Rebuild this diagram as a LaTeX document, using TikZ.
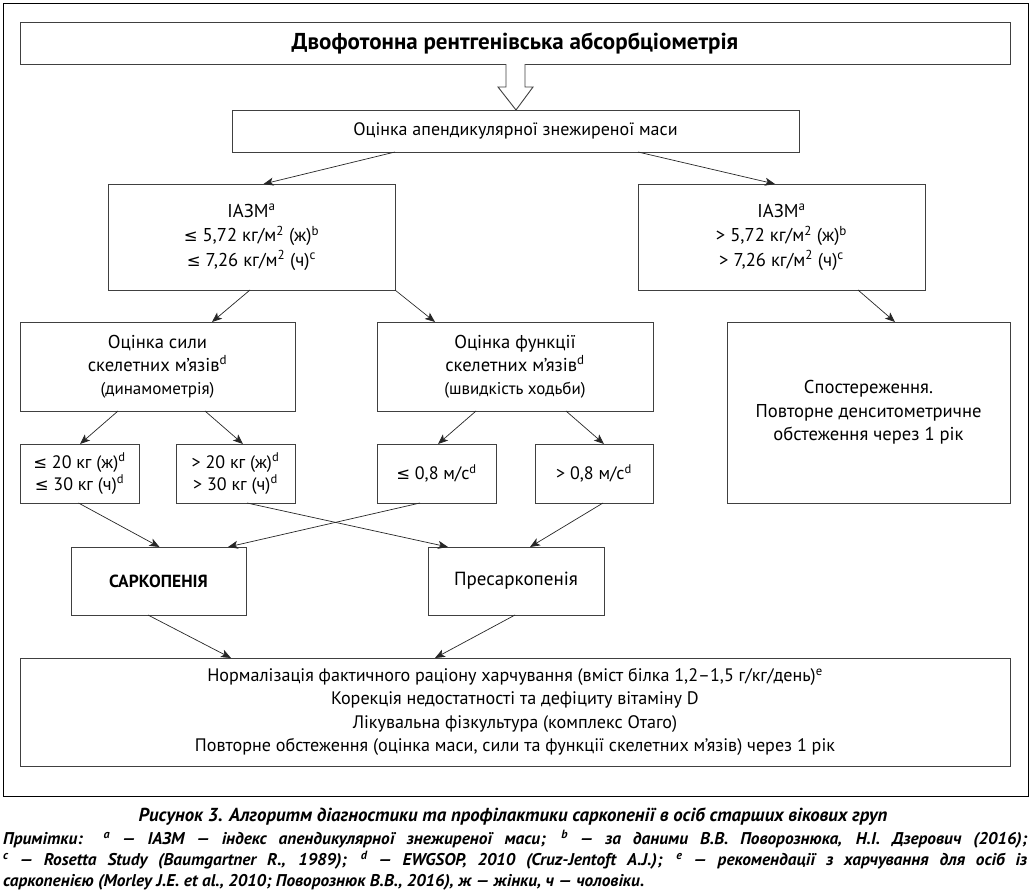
\documentclass[tikz,border=0pt]{standalone}
\usepackage{fontspec}
\setmainfont{PT Sans}
\newfontfamily\symf{DejaVu Sans}
\newfontfamily\notef[FakeStretch=1.02]{PT Sans}
\usetikzlibrary{arrows.meta,calc}
\newcommand{\lsym}{{\symf\fontsize{16.5}{16}\selectfont ≤}}
\tikzset{
  box/.style={draw=black!75, line width=0.9pt, inner sep=0pt, outer sep=0pt, align=center,
    font=\fontsize{18.6}{23}\selectfont, text=black},
  arr/.style={draw=black!85, line width=0.7pt, -{Stealth[length=10pt,width=8pt,inset=2.5pt]}}
}
\begin{document}
\begin{tikzpicture}[x=1pt,y=-1pt]
\useasboundingbox (0,0) rectangle (1033,894);
\draw[black, line width=1pt] (3,3) rectangle (1028,796);

\node[box, minimum width=990, minimum height=42, font=\bfseries\fontsize{23}{26}\selectfont] (top) at (515,43) {Двофотонна рентгенівська абсорбціометрія};
\node[box, minimum width=567, minimum height=42, font=\fontsize{18}{22}\selectfont] (mass) at (515.5,131) {Оцінка апендикулярної знежиреної маси};

\draw[draw=black!75, line width=0.9pt, fill=white]
  ($(top.south)+(-9,0)$) -- ++(0,23) -- ++(-8,0) -- ($(mass.north)+(0.5,0)$) -- ($(top.south)+(18,23)$) -- ++(-8,0) -- ($(top.south)+(10,0)$);

\node[box, minimum width=287, minimum height=106, font=\fontsize{18.6}{24.5}\selectfont] (iazl) at (251.5,237) {ІАЗМ\textsuperscript{a}\\ \lsym{} 5,72 кг/м\textsuperscript{2} (ж)\textsuperscript{b}\\ \lsym{} 7,26 кг/м\textsuperscript{2} (ч)\textsuperscript{c}};
\node[box, minimum width=287, minimum height=106, font=\fontsize{18.6}{24.5}\selectfont] (iazr) at (781.5,237) {ІАЗМ\textsuperscript{a}\\ > 5,72 кг/м\textsuperscript{2} (ж)\textsuperscript{b}\\ > 7,26 кг/м\textsuperscript{2} (ч)\textsuperscript{c}};

\node[box, minimum width=275, minimum height=89] (sila) at (157.5,366.5) {Оцінка сили\\скелетних м’язів\textsuperscript{d}\\ {\fontsize{17}{22}\selectfont(динамометрія)}};
\node[box, minimum width=276, minimum height=89] (funk) at (515,366.5) {Оцінка функції\\скелетних м’язів\textsuperscript{d}\\ {\fontsize{17}{22}\selectfont(швидкість ходьби)}};
\node[box, minimum width=283, minimum height=181, font=\fontsize{18.6}{23.5}\selectfont] (spost) at (868.5,412.5) {Спостереження.\\Повторне денситометричне\\обстеження через 1 рік};

\node[box, minimum width=119, minimum height=59, font=\fontsize{18}{22}\selectfont] (s1) at (79.5,473.5) {\lsym{} 20 кг (ж)\textsuperscript{d}\\ \lsym{} 30 кг (ч)\textsuperscript{d}};
\node[box, minimum width=119, minimum height=59, font=\fontsize{18}{22}\selectfont] (s2) at (235.5,473.5) {> 20 кг (ж)\textsuperscript{d}\\ > 30 кг (ч)\textsuperscript{d}};
\node[box, minimum width=119, minimum height=59, font=\fontsize{18}{22}\selectfont] (s3) at (436.5,473.5) {\lsym{} 0,8 м/с\textsuperscript{d}};
\node[box, minimum width=118, minimum height=59, font=\fontsize{18}{22}\selectfont] (s4) at (594,473.5) {> 0,8 м/с\textsuperscript{d}};

\node[box, minimum width=175, minimum height=68, font=\bfseries\fontsize{17.5}{24}\selectfont] (sark) at (158.5,581) {САРКОПЕНІЯ};
\node[box, minimum width=176, minimum height=68, font=\fontsize{19}{24}\selectfont] (presark) at (516,581) {Пресаркопенія};

\node[box, minimum width=990, minimum height=108, font=\fontsize{18.1}{23.3}\selectfont] (final) at (515,712) {Нормалізація фактичного раціону харчування (вміст білка 1,2–1,5 г/кг/день)\textsuperscript{e}\\Корекція недостатності та дефіциту вітаміну D\\Лікувальна фізкультура (комплекс Отаго)\\Повторне обстеження (оцінка маси, сили та функції скелетних м’язів) через 1 рік};

\draw[arr] ([xshift=-120.5]mass.south) -- ([xshift=12]iazl.north);
\draw[arr] ([xshift=122.5]mass.south) -- ([xshift=-6.5]iazr.north);
\draw[arr] ([xshift=-1.5]iazl.south) -- ([xshift=54.5]sila.north);
\draw[arr] (iazl.south east) -- ([xshift=-80]funk.north);
\draw[arr] ([xshift=76.5]iazr.south) -- ([xshift=26.5]spost.north);
\draw[arr] ([xshift=-39.5]sila.south) -- ([xshift=0.5]s1.north);
\draw[arr] ([xshift=47.5]sila.south) -- ([xshift=7.5]s2.north);
\draw[arr] ([xshift=-39]funk.south) -- ([xshift=1.5]s3.north);
\draw[arr] ([xshift=51]funk.south) -- ([xshift=10]s4.north);
\draw[arr] ([xshift=-1]s1.south) -- ([xshift=1]sark.north);
\draw[arr] ([xshift=-16.5]s3.south) -- ([xshift=69.5]sark.north);
\draw[arr] ([xshift=11.5]s2.south) -- ([xshift=-68]presark.north);
\draw[arr] ([xshift=9]s4.south) -- ([xshift=14]presark.north);
\draw[arr] ([xshift=-10.5]sark.south) -- ([xshift=-284]final.north);
\draw[arr] ([xshift=-1]presark.south) -- ([xshift=-80]final.north);

\node[inner sep=0pt, font=\bfseries\itshape\fontsize{18.8}{22}\selectfont] (cap) at (513,817) {Рисунок 3. Алгоритм діагностики та профілактики саркопенії в осіб старших вікових груп};
\node[anchor=north west, inner sep=0pt, text width=1024pt, align=justify, font=\notef\bfseries\itshape\fontsize{17}{21}\selectfont] (notes) at (3,830) {Примітки: \textsuperscript{a} — ІАЗМ — індекс апендикулярної знежиреної маси; \textsuperscript{b} — за даними В.В. Поворознюка, Н.І. Дзерович (2016);\linebreak \textsuperscript{c} — Rosetta Study (Baumgartner R., 1989); \textsuperscript{d} — EWGSOP, 2010 (Cruz-Jentoft A.J.); \textsuperscript{e} — рекомендації з харчування для осіб із\linebreak саркопенією (Morley J.E. et al., 2010; Поворознюк В.В., 2016), ж — жінки, ч — чоловіки.};
\end{tikzpicture}
\end{document}
